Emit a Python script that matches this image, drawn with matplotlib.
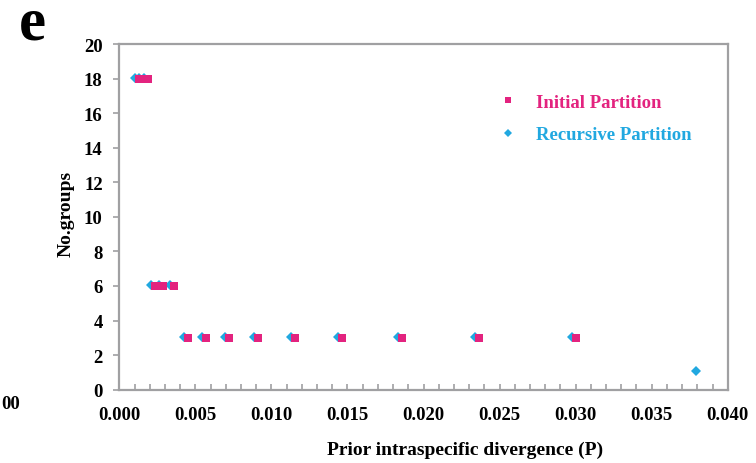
import matplotlib
matplotlib.use('Agg')
import matplotlib.pyplot as plt
from matplotlib.ticker import MultipleLocator
from matplotlib.transforms import offset_copy

# prior intraspecific divergence values (P) and number of groups
p_initial = [0.00100, 0.00127, 0.00162, 0.00207, 0.00264, 0.00336, 0.00428, 0.00546,
             0.00695, 0.00886, 0.01129, 0.01438, 0.01833, 0.02336, 0.02976]
groups_initial = [18, 18, 18, 6, 6, 6, 3, 3, 3, 3, 3, 3, 3, 3, 3]
p_recursive = [0.00100, 0.00127, 0.00162, 0.00207, 0.00264, 0.00336, 0.00428, 0.00546,
               0.00695, 0.00886, 0.01129, 0.01438, 0.01833, 0.02336, 0.02976, 0.03793]
groups_recursive = [18, 18, 18, 6, 6, 6, 3, 3, 3, 3, 3, 3, 3, 3, 3, 1]

pink = '#E3237F'
blue = '#21A8E0'
grey = '#A0A0A2'
serif = ['Liberation Serif', 'DejaVu Serif']

plt.rcParams['font.family'] = serif
plt.rcParams['font.weight'] = 'bold'

fig = plt.figure(figsize=(7.56, 4.64), dpi=100)
ax = fig.add_axes([0.1578, 0.158, 0.8048, 0.745])

blue_pts, = ax.plot(p_recursive, groups_recursive, 'D', color=blue, markersize=5.5,
                    markeredgewidth=0, label='Recursive Partition', zorder=3,
                    transform=offset_copy(ax.transData, fig=fig, x=0, y=1, units='dots'))
pink_pts, = ax.plot(p_initial, groups_initial, 's', color=pink, markersize=5.2,
                    markeredgewidth=0, label='Initial Partition', zorder=4,
                    transform=offset_copy(ax.transData, fig=fig, x=4, y=-0.5, units='dots'))

ax.set_xlim(0, 0.04)
ax.set_ylim(0, 20)
ax.xaxis.set_major_locator(MultipleLocator(0.005))
ax.xaxis.set_minor_locator(MultipleLocator(0.001))
ax.yaxis.set_major_locator(MultipleLocator(2))
ax.set_xticklabels([f'{v:.3f}' for v in ax.get_xticks()])

for s in ax.spines.values():
    s.set_color(grey)
    s.set_linewidth(1.6)

ax.tick_params(axis='x', which='both', direction='in', length=4, width=1.2,
               color=grey, labelsize=13.5, pad=12)
ax.tick_params(axis='y', direction='out', length=4, width=1.2, color=grey,
               labelsize=13.5, pad=8)

ax.set_ylabel('No.groups', fontsize=14, fontweight='bold', va='center')
ax.yaxis.set_label_coords(-0.087, 0.51)
ax.set_xlabel('Prior intraspecific divergence (P)', fontsize=14, fontweight='bold',
              va='center')
ax.xaxis.set_label_coords(0.568, -0.1715)

leg = ax.legend(handles=[pink_pts, blue_pts], loc='upper left',
                bbox_to_anchor=(0.59, 0.905), frameon=False, fontsize=13.5,
                handlelength=1.4, handletextpad=0.8, labelspacing=0.82,
                markerscale=0.8, labelcolor='markerfacecolor')
for t in leg.get_texts():
    t.set_fontweight('bold')

fig.text(0.043, 0.914, 'e', fontsize=44, fontweight='bold', ha='center', va='baseline')
fig.text(0.027, 0.128, '00', fontsize=13.5, fontweight='bold', ha='right', va='center')

fig.savefig('out.png', dpi=100)
